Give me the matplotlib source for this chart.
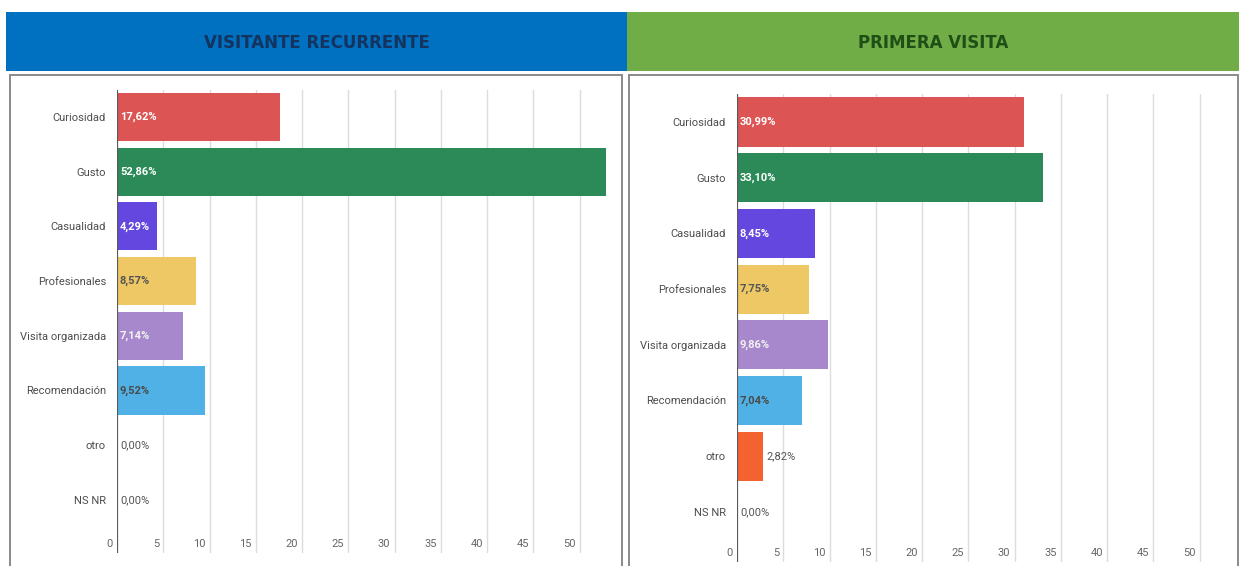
import matplotlib
matplotlib.use("Agg")
import matplotlib.pyplot as plt
from matplotlib.patches import Rectangle
from matplotlib.transforms import offset_copy

# Data
categories = ["Curiosidad", "Gusto", "Casualidad", "Profesionales",
              "Visita organizada", "Recomendación", "otro", "NS NR"]
recurrente = [17.62, 52.86, 4.29, 8.57, 7.14, 9.52, 0.00, 0.00]
primera = [30.99, 33.10, 8.45, 7.75, 9.86, 7.04, 2.82, 0.00]
x_ticks = [0, 5, 10, 15, 20, 25, 30, 35, 40, 45, 50]
panel_titles = ["VISITANTE RECURRENTE", "PRIMERA VISITA"]

bar_colors = ["#DD5454", "#2B8A57", "#6447DE", "#EEC865",
              "#A788CD", "#4FB1E6", "#F4622F", "#9E9E9E"]
label_colors = ["white", "white", "white", "#555555",
                "#f2f2f2", "#4a4a4a", "#555555", "#555555"]

W, H = 1239, 566
fig = plt.figure(figsize=(W / 100, H / 100), dpi=100)
fig.patch.set_facecolor("white")


def fx(px):
    return px / W


def fy(py):
    return 1 - py / H


# Header bands
header_specs = [
    (6, 627, "#0070C0", "#14335E"),
    (627, 1239, "#70AD47", "#1F4F16"),
]
for (x0, x1, face, tcol), title in zip(header_specs, panel_titles):
    fig.patches.append(Rectangle((fx(x0), fy(71)), fx(x1 - x0), (71 - 12) / H,
                                 transform=fig.transFigure, facecolor=face,
                                 edgecolor="none", zorder=0))
    fig.text(fx((x0 + x1) / 2), fy(43), title, ha="center", va="center",
             fontsize=12, fontweight="bold", color=tcol,
             family="DejaVu Sans")

# Panel frames
for x0, x1 in [(10, 622), (629, 1238)]:
    fig.patches.append(Rectangle((fx(x0), fy(575)), fx(x1 - x0), (575 - 75) / H,
                                 transform=fig.transFigure, facecolor="none",
                                 edgecolor="#8a8a8a", linewidth=1.4, zorder=1))

xmax = 53.5
px_per_unit = 9.25
# (axis x px, first bar centre px, row spacing px, axis bottom px)
layouts = [(117, 117, 54.7, 553), (737, 122, 55.7, 562)]

for values, (ax_x, c0, step, bottom) in zip([recurrente, primera], layouts):
    top = c0 - step / 2
    ymax = (bottom - c0) / step
    width_px = xmax * px_per_unit
    ax = fig.add_axes([fx(ax_x), fy(bottom), fx(width_px), (bottom - top) / H])
    ax.set_xlim(0, xmax)
    ax.set_ylim(ymax, -0.5)
    ypos = list(range(len(categories)))

    for xv in x_ticks[1:]:
        ax.axvline(xv, color="#dcdcdc", linewidth=1.0, zorder=0)

    ax.barh(ypos, values, height=0.88, color=bar_colors[:len(values)], zorder=2)
    ax.axvline(0, color="#5a5a5a", linewidth=1.6, zorder=3)

    for i, v in enumerate(values):
        txt = f"{v:.2f}".replace(".", ",") + "%"
        inside = v >= 4
        xpos = 0 if inside else v
        col = label_colors[i] if inside else "#555555"
        tr = offset_copy(ax.transData, fig=fig, x=3, y=0, units="dots")
        ax.text(xpos, i, txt, transform=tr, ha="left", va="center",
                fontsize=8, color=col, family="Roboto",
                fontweight="bold" if inside else "normal", zorder=4)

    ax.set_yticks(ypos)
    ax.set_yticklabels(categories, family="Roboto", fontsize=8, color="#4d4d4d")
    ax.tick_params(axis="y", length=0, pad=8)

    ax.set_xticks([])
    xtr = offset_copy(ax.get_xaxis_transform(), fig=fig, x=-4, y=9, units="dots")
    for xv in x_ticks:
        ax.text(xv, 0, str(xv), transform=xtr, ha="right", va="center",
                fontsize=8, color="#666666", family="Roboto")

    for s in ax.spines.values():
        s.set_visible(False)
    ax.set_facecolor("none")

fig.savefig("out.png", dpi=100, facecolor="white")
